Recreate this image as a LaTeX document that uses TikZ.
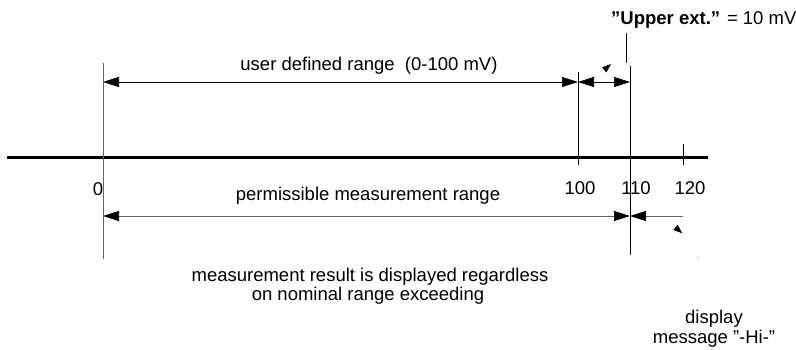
\documentclass[tikz,border=0pt]{standalone}
\usepackage{fontspec}
\setmainfont{Liberation Sans}
\usetikzlibrary{arrows.meta}
\begin{document}
\begin{tikzpicture}[x=1pt,y=-1pt,
  thinline/.style={line width=0.7pt, draw=black},
  greyline/.style={line width=0.7pt, draw=black!60},
  bigtip/.tip={Triangle[length=16pt,width=10pt,color=black]},
  smalltip/.tip={Triangle[length=9pt,width=6.5pt,color=black]},
  lbl/.style={font=\fontsize{18.5}{21}\selectfont, inner sep=0pt, anchor=base},
]
\useasboundingbox (0,0) rectangle (796,350);
% coordinates
\coordinate (axL) at (7,157.5);
\coordinate (axR) at (708,157.5);
\coordinate (v0t) at (103,63);
\coordinate (v0b) at (103,259);
\coordinate (v100t) at (578,72);
\coordinate (v100b) at (578,165);
\coordinate (v110t) at (630,66);
\coordinate (v110b) at (630,255);
\coordinate (leadt) at (626,33);
\coordinate (leadb) at (626,63);
\coordinate (v120t) at (683,144);
\coordinate (v120b) at (683,165);
\coordinate (ua0) at (103,82);
\coordinate (ua100) at (578,82);
\coordinate (ua110) at (630,82);
\coordinate (la0) at (103,216);
\coordinate (la110) at (630,216);
\coordinate (la120) at (683,216);
\coordinate (s1a) at (604.2,69.9);
\coordinate (s1b) at (611,64);
\coordinate (s2a) at (675.5,227.4);
\coordinate (s2b) at (682.3,233.3);
\coordinate (dot) at (698,258);
% axis
\draw[line width=3.3pt] (axL) -- (axR);
% verticals
\draw[greyline] (v0t) -- (v0b);
\draw[thinline] (v100t) -- (v100b);
\draw[thinline] (v110t) -- (v110b);
\draw[thinline] (leadt) -- (leadb);
\draw[thinline] (v120t) -- (v120b);
% dimension arrows
\draw[thinline, bigtip-bigtip] (ua0) -- (ua100);
\draw[thinline, bigtip-bigtip] (ua100) -- (ua110);
\draw[greyline, bigtip-bigtip] (la0) -- (la110);
\draw[greyline, -bigtip] (la120) -- (la110);
% stray arrow heads
\draw[thinline, -smalltip] (s1a) -- (s1b);
\draw[thinline, -smalltip] (s2a) -- (s2b);
\fill[black!60] (dot) circle (0.6pt);
% labels
\node[lbl] (tuser) at (369,71) {user defined range\ \ (0-100 mV)};
\node[lbl] (tperm) at (368,201) {permissible measurement range};
\node[lbl] (t0) at (98,196) {0};
\node[lbl] (t100) at (580,195) {100};
\node[lbl] (t110) at (636,195) {110};
\node[lbl] (t120) at (690,195) {120};
\node[lbl, anchor=base west] (tup) at (611,25) {\textbf{”Upper ext.”} = 10 mV};
\node[lbl] (tres1) at (370,281) {measurement result is displayed regardless};
\node[lbl] (tres2) at (368,300) {on nominal range exceeding};
\node[lbl] (tdisp1) at (714,323) {display};
\node[lbl] (tdisp2) at (714,343) {message ”-Hi-”};
\end{tikzpicture}
\end{document}
